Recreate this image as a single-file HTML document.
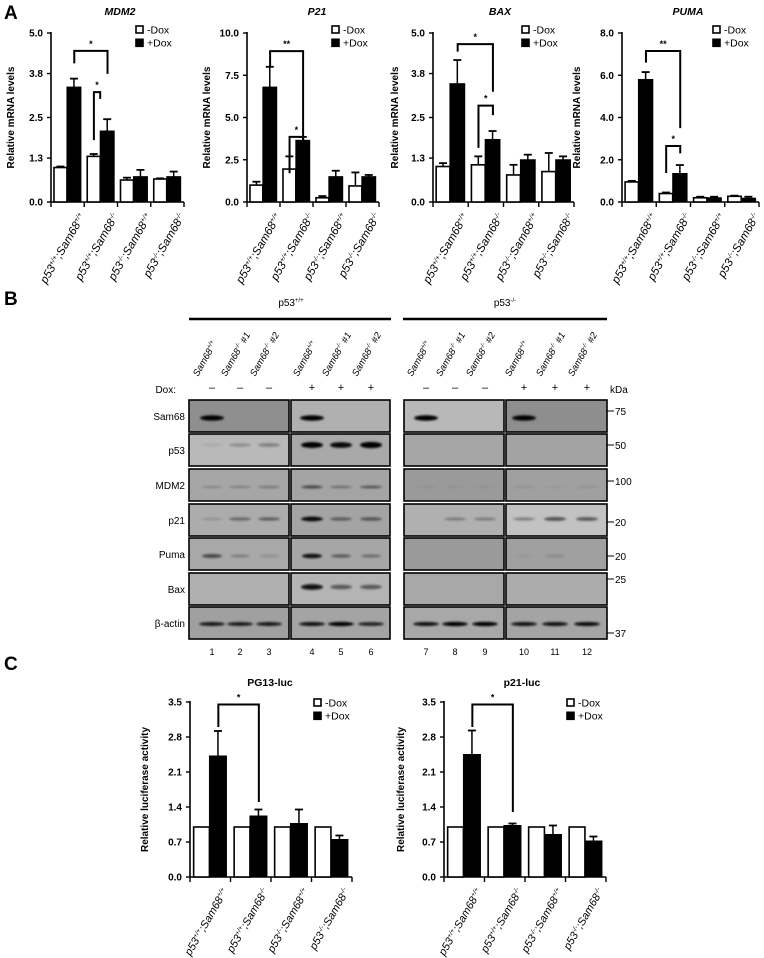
<!DOCTYPE html>
<html><head><meta charset="utf-8">
<style>
html,body{margin:0;padding:0;background:#fff;}
svg{display:block;font-family:"Liberation Sans",Arial,sans-serif;}
</style></head>
<body>
<svg id="fig" width="764" height="958" viewBox="0 0 764 958" xmlns="http://www.w3.org/2000/svg">
<defs><filter id="blur" x="-30%" y="-100%" width="160%" height="300%"><feGaussianBlur stdDeviation="1.1"/></filter></defs>
<text x="4" y="19" font-size="19" font-weight="bold">A</text>
<text x="4" y="305" font-size="19" font-weight="bold">B</text>
<text x="4" y="670" font-size="19" font-weight="bold">C</text>
</svg>
<script>
// ---------- chart data ----------
const groupLabels = [["+/+","+/+"],["+/+","-/-"],["-/-","+/+"],["-/-","-/-"]];
const mdm2Ticks = ["0.0","1.3","2.5","3.8","5.0"];
const mdm2White = [1.02,1.35,0.65,0.68];
const mdm2WhiteErr = [0.03,0.07,0.07,0.02];
const mdm2Black = [3.4,2.1,0.75,0.75];
const mdm2BlackErr = [0.25,0.35,0.2,0.15];
const p21Ticks = ["0.0","2.5","5.0","7.5","10.0"];
const p21White = [1.0,1.95,0.25,0.95];
const p21WhiteErr = [0.2,0.75,0.1,0.8];
const p21Black = [6.8,3.65,1.5,1.5];
const p21BlackErr = [1.2,0.2,0.35,0.1];
const baxTicks = ["0.0","1.3","2.5","3.8","5.0"];
const baxWhite = [1.05,1.1,0.8,0.9];
const baxWhiteErr = [0.1,0.25,0.3,0.55];
const baxBlack = [3.5,1.85,1.25,1.25];
const baxBlackErr = [0.7,0.25,0.15,0.1];
const pumaTicks = ["0.0","2.0","4.0","6.0","8.0"];
const pumaWhite = [0.95,0.4,0.2,0.27];
const pumaWhiteErr = [0.05,0.05,0.05,0.03];
const pumaBlack = [5.8,1.35,0.2,0.18];
const pumaBlackErr = [0.35,0.4,0.05,0.07];
const lucTicks = ["0.0","0.7","1.4","2.1","2.8","3.5"];
const pg13White = [1,1,1,1];
const pg13WhiteErr = [0,0,0,0];
const pg13Black = [2.42,1.22,1.07,0.75];
const pg13BlackErr = [0.5,0.13,0.28,0.08];
const p21lucWhite = [1,1,1,1];
const p21lucWhiteErr = [0,0,0,0];
const p21lucBlack = [2.45,1.03,0.85,0.72];
const p21lucBlackErr = [0.48,0.04,0.18,0.09];
// brackets: [leftSlot, rightSlot, topValue, leftEndValue, rightEndValue, label]
const mdm2Brackets = [[0.7,1.7,4.47,4.1,3.79,"*"],[1.29,1.48,3.25,1.83,3.05,"*"]];
const p21Brackets = [[0.7,1.7,8.93,8.0,2.8,"**"],[1.29,1.7,3.85,1.7,2.9,"*"]];
const baxBrackets = [[0.7,1.7,4.67,4.45,3.26,"*"],[1.29,1.7,2.85,1.6,2.57,"*"]];
const pumaBrackets = [[0.7,1.7,7.15,6.6,3.5,"**"],[1.29,1.7,2.65,1.37,2.3,"*"]];
const pg13Brackets = [[0.7,1.7,3.45,3.0,1.5,"*"]];
const p21lucBrackets = [[0.7,1.7,3.45,3.0,1.3,"*"]];

// ---------- blot data (band intensity per lane 1..12) ----------
const blotRows = ["Sam68","p53","MDM2","p21","Puma","Bax","β-actin"];
const sam68Bands = [1,0,0,1,0,0,1,0,0,1,0,0];
const p53Bands = [0.08,0.22,0.3,1,0.95,1.1,0,0,0,0,0,0];
const mdm2Bands = [0.2,0.25,0.3,0.6,0.35,0.5,0.06,0.06,0.06,0.1,0.06,0.1];
const p21Bands = [0.15,0.4,0.45,0.95,0.45,0.5,0,0.3,0.3,0.35,0.6,0.55];
const pumaBands = [0.6,0.25,0.15,0.9,0.45,0.35,0,0,0,0.05,0.15,0];
const baxBands = [0,0,0,0.9,0.5,0.5,0,0,0,0,0,0];
const actinBands = [0.85,0.85,0.85,0.9,1,0.8,0.9,1,1,0.9,0.9,0.95];
const laneGeno = ["+/+","-/-","-/-","+/+","-/-","-/-","+/+","-/-","-/-","+/+","-/-","-/-"];
const laneClone = [""," #1"," #2",""," #1"," #2",""," #1"," #2",""," #1"," #2"];
const doxSigns = ["–","–","–","+","+","+","–","–","–","+","+","+"];
const kdaLabels = ["75","50","100","20","20","25","37"];

const NS="http://www.w3.org/2000/svg";
const fig=document.getElementById('fig');
function mk(tag,attrs,parent){const e=document.createElementNS(NS,tag);for(const k in attrs)e.setAttribute(k,attrs[k]);(parent||fig).appendChild(e);return e;}
function ts(parent,text,attrs){const t=mk('tspan',attrs||{},parent);t.textContent=text;return t;}

function drawChart(c){
  const g=mk('g',{});
  
  
  const ymax=parseFloat(c.ticks[c.ticks.length-1]);
  const yS=v=>c.y0-(v/ymax)*(c.y0-c.yTop);
  const gw=(c.x1-c.x0)/4;
  const slotX=s=>c.x0+s*gw;
  const t=mk('text',{x:c.titleX,y:c.titleY,'font-size':10.5,'font-weight':'bold','font-style':c.italicTitle?'italic':'normal','text-anchor':'middle'},g);
  t.textContent=c.title;
  
  
  const yt=mk('text',{x:0,y:0,'font-size':10,'font-weight':'bold','text-anchor':'middle',transform:`translate(${c.yTitleX},${(c.y0+c.yTop)/2}) rotate(-90)`},g);
  yt.textContent=c.yTitle;
  
  
  const ya=mk('line',{x1:c.x0,y1:c.yTop-1,x2:c.x0,y2:c.y0,stroke:'#000','stroke-width':1.6},g);
  
  
  c.ticks.forEach(tk=>{
    const v=parseFloat(tk),y=yS(v);
    mk('line',{x1:c.x0-4,y1:y,x2:c.x0,y2:y,stroke:'#000','stroke-width':1.4},g);
    const tl=mk('text',{x:c.x0-8,y:y+3.5,'font-size':10,'font-weight':'bold','text-anchor':'end'},g);
    tl.textContent=tk;
    
    
  });
  const xa=mk('line',{x1:c.x0,y1:c.y0,x2:c.x1,y2:c.y0,stroke:'#000','stroke-width':1.6},g);
  
  
  for(let i=0;i<=4;i++){mk('line',{x1:slotX(i),y1:c.y0,x2:slotX(i),y2:c.y0+5,stroke:'#000','stroke-width':1.4},g);}
  for(let i=0;i<4;i++){
    const wx=slotX(i)+0.09*gw, ww=0.39*gw, bx=wx+ww, bw=0.42*gw;
    const wv=c.white[i], bv=c.black[i];
    if(c.whiteErr[i]>0){
      const ey=yS(wv+c.whiteErr[i]);
      mk('line',{x1:wx+ww/2,y1:yS(wv),x2:wx+ww/2,y2:ey,stroke:'#000','stroke-width':1.5},g);
      mk('line',{x1:wx+ww/2-4,y1:ey,x2:wx+ww/2+4,y2:ey,stroke:'#000','stroke-width':1.8},g);
    }
    const wr=mk('rect',{x:wx,y:yS(wv),width:ww,height:c.y0-yS(wv),fill:'#fff',stroke:'#000','stroke-width':1.6},g);
    
    
    const ey=yS(bv+c.blackErr[i]);
    mk('line',{x1:bx+bw/2,y1:yS(bv),x2:bx+bw/2,y2:ey,stroke:'#000','stroke-width':1.5},g);
    mk('line',{x1:bx+bw/2-4,y1:ey,x2:bx+bw/2+4,y2:ey,stroke:'#000','stroke-width':1.8},g);
    const br=mk('rect',{x:bx,y:yS(bv),width:bw,height:c.y0-yS(bv),fill:'#000',stroke:'#000','stroke-width':1},g);
    
    
    const cx=slotX(i)+gw/2+c.lblDx, cy=c.y0+14;
    const xl=mk('text',{x:cx,y:cy,'font-size':c.lblSize,'font-style':'italic','text-anchor':'end',transform:`rotate(-60 ${cx} ${cy})`},g);
    
    
    const L=groupLabels[i];
    ts(xl,'p53');
    ts(xl,L[0],{'font-size':c.lblSize*0.6,dy:-4});
    ts(xl,';Sam68',{dy:4});
    ts(xl,L[1],{'font-size':c.lblSize*0.6,dy:-4});
  }
  c.brackets.forEach(b=>{
    const xl=slotX(b[0]),xr=slotX(b[1]),yt=yS(b[2]);
    const p=mk('path',{d:`M${xl},${yS(b[3])} V${yt} H${xr} V${yS(b[4])}`,fill:'none',stroke:'#000','stroke-width':2},g);
    
    
    const s=mk('text',{x:(xl+xr)/2,y:yt-4,'font-size':9,'text-anchor':'middle','font-weight':'bold'},g);
    s.textContent=b[5];
    
    
  });
  const lg=mk('g',{},g);
  
  
  mk('rect',{x:c.legX,y:c.legY-4,width:7,height:7,fill:'#fff',stroke:'#000','stroke-width':1.6},lg);
  const l1=mk('text',{x:c.legX+11,y:c.legY+3.5,'font-size':10.5},lg);l1.textContent='-Dox';
  
  
  mk('rect',{x:c.legX-0.8,y:c.legY+8.5,width:8.6,height:8.6,fill:'#000'},lg);
  const l2=mk('text',{x:c.legX+11,y:c.legY+16.5,'font-size':10.5},lg);l2.textContent='+Dox';
  
  
}

const A={y0:202,yTop:33,titleY:15,italicTitle:true,yTitle:'Relative mRNA levels',lblDx:18,lblSize:11.5,legY:30};
drawChart(Object.assign({},A,{name:'chart-mdm2',title:'MDM2',titleX:120,x0:51,x1:184,yTitleX:14,ticks:mdm2Ticks,white:mdm2White,whiteErr:mdm2WhiteErr,black:mdm2Black,blackErr:mdm2BlackErr,brackets:mdm2Brackets,legX:136}));
drawChart(Object.assign({},A,{name:'chart-p21',title:'P21',titleX:317,x0:247,x1:379,yTitleX:210,ticks:p21Ticks,white:p21White,whiteErr:p21WhiteErr,black:p21Black,blackErr:p21BlackErr,brackets:p21Brackets,legX:332}));
drawChart(Object.assign({},A,{name:'chart-bax',title:'BAX',titleX:500,x0:433,x1:574,yTitleX:398,ticks:baxTicks,white:baxWhite,whiteErr:baxWhiteErr,black:baxBlack,blackErr:baxBlackErr,brackets:baxBrackets,legX:522}));
drawChart(Object.assign({},A,{name:'chart-puma',title:'PUMA',titleX:688,x0:622,x1:759,yTitleX:580,ticks:pumaTicks,white:pumaWhite,whiteErr:pumaWhiteErr,black:pumaBlack,blackErr:pumaBlackErr,brackets:pumaBrackets,legX:713}));
const C={y0:877,yTop:702,titleY:686,italicTitle:false,yTitle:'Relative luciferase activity',lblDx:18,lblSize:11,legY:703};
drawChart(Object.assign({},C,{name:'chart-pg13-luc',title:'PG13-luc',titleX:270,x0:190,x1:352,yTitleX:148,ticks:lucTicks,white:pg13White,whiteErr:pg13WhiteErr,black:pg13Black,blackErr:pg13BlackErr,brackets:pg13Brackets,legX:314}));
drawChart(Object.assign({},C,{name:'chart-p21-luc',title:'p21-luc',titleX:522,x0:444,x1:606,yTitleX:404,ticks:lucTicks,white:p21lucWhite,whiteErr:p21lucWhiteErr,black:p21lucBlack,blackErr:p21lucBlackErr,brackets:p21lucBrackets,legX:567}));

// ---------- western blot ----------
(function(){
  const g=mk('g',{});
  
  
  const laneX=[212,240,269,312,341,371,426,455,485,524,555,587];
  const blotX=[[189,289],[291,390],[404,504],[506,607]];
  const rowTop=[400,434,469,504,538,573,607];
  const rowH=32;
  const bandOff=[18,11,18,15,18,14,17];
  const bandW=[24,22,22,22,20,22,26];
  const bandH=[4.5,5,3,4,4,5,3.5];
  const kdaY=[411,445,481,522,556,579,633];
  const bands=[sam68Bands,p53Bands,mdm2Bands,p21Bands,pumaBands,baxBands,actinBands];
  const bg=[["#8f8f8f","#b0b0b0","#b8b8b8","#8e8e8e"],["#b9b9b9","#a9a9a9","#a6a6a6","#a3a3a3"],["#a6a6a6","#a4a4a4","#9a9a9a","#a0a0a0"],["#acacac","#a4a4a4","#b0b0b0","#c2c2c2"],["#a8a8a8","#a6a6a6","#9a9a9a","#a0a0a0"],["#b0b0b0","#b4b4b4","#a8a8a8","#acacac"],["#a0a0a0","#a4a4a4","#a8a8a8","#a4a4a4"]];
  [["p53","+/+",291,189,391],["p53","-/-",505,403,607]].forEach(h=>{
    const t=mk('text',{x:h[2],y:306,'font-size':10,'text-anchor':'middle'},g);
    ts(t,h[0]);
    ts(t,h[1],{'font-size':6,dy:-4});
    
    
    mk('line',{x1:h[3],y1:319,x2:h[4],y2:319,stroke:'#000','stroke-width':2.4},g);
  });
  laneX.forEach((x,i)=>{
    const lx=x-14, ly=377;
    const t=mk('text',{x:lx,y:ly,'font-size':9.5,'font-style':'italic','text-anchor':'start',transform:`rotate(-60 ${lx} ${ly})`},g);
    ts(t,'Sam68');
    ts(t,laneGeno[i],{'font-size':6,dy:-4});
    if(laneClone[i]) ts(t,laneClone[i],{dy:4});
    
    
    const d=mk('text',{x:x,y:391,'font-size':11,'text-anchor':'middle'},g);
    d.textContent=doxSigns[i];
    
    
    const n=mk('text',{x:x,y:655,'font-size':9,'text-anchor':'middle'},g);
    n.textContent=String(i+1);
    
    
  });
  const dx=mk('text',{x:176,y:393,'font-size':10,'text-anchor':'end'},g);dx.textContent='Dox:';
  
  
  const kd=mk('text',{x:610,y:393,'font-size':10},g);kd.textContent='kDa';
  
  
  blotRows.forEach((r,ri)=>{
    const lt=mk('text',{x:185,y:rowTop[ri]+rowH/2+4,'font-size':10,'text-anchor':'end'},g);
    lt.textContent=r;
    
    
    blotX.forEach((b,bi)=>{
      const rc=mk('rect',{x:b[0],y:rowTop[ri],width:b[1]-b[0],height:rowH,fill:bg[ri][bi],stroke:'#000','stroke-width':1.6},g);
      
      
    });
    laneX.forEach((x,li)=>{
      const v=bands[ri][li];
      if(v<=0)return;
      const e=mk('ellipse',{cx:x,cy:rowTop[ri]+bandOff[ri],rx:bandW[ri]/2,ry:bandH[ri]/2*(0.6+0.6*v),fill:'#000','fill-opacity':Math.min(1,v),filter:'url(#blur)'},g);
      
      
    });
    mk('line',{x1:607,y1:kdaY[ri],x2:614,y2:kdaY[ri],stroke:'#000','stroke-width':1},g);
    const k=mk('text',{x:615,y:kdaY[ri]+4,'font-size':10},g);
    k.textContent=kdaLabels[ri];
    
    
  });
})();
</script>
</body></html>
